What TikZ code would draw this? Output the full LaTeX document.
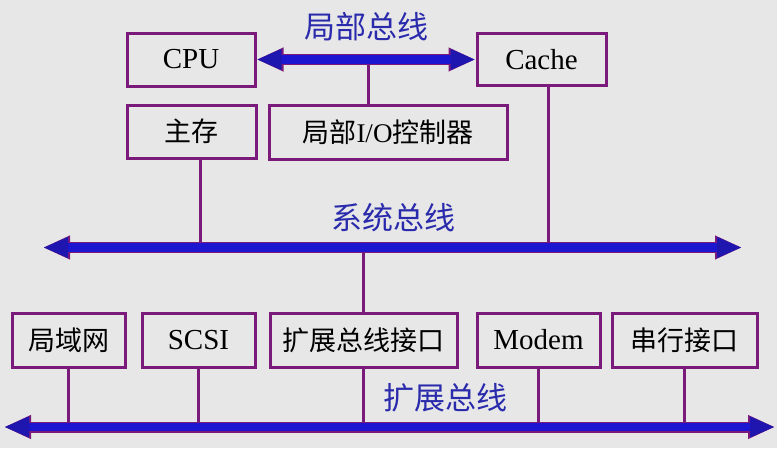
\documentclass[tikz,border=0pt]{standalone}
\usepackage{fontspec}
\setmainfont{Liberation Serif}
\newfontfamily\cjk{Noto Sans CJK SC}
\usetikzlibrary{arrows.meta}

\definecolor{bg}{RGB}{231,231,231}
\definecolor{purp}{RGB}{122,26,122}
\definecolor{busblue}{RGB}{28,22,208}
\definecolor{headblue}{RGB}{30,22,175}
\definecolor{lblue}{RGB}{42,42,172}

\tikzset{
  box/.style={draw=purp, line width=3pt, inner sep=0pt, minimum height=54pt,
    text=black, font=\fontsize{29}{32}\selectfont},
  conn/.style={draw=purp, line width=3pt},
  busline/.style={
    preaction={draw=purp, line width=11pt,
      arrows={Triangle[length=27pt,width=22pt]-Triangle[length=27pt,width=22pt]}},
    draw=busblue, line width=8.5pt,
    arrows={Triangle[length=25pt,width=19pt,color=headblue]-Triangle[length=25pt,width=19pt,color=headblue]}},
  buslabel/.style={text=lblue, font=\cjk\fontsize{31}{34}\selectfont, inner sep=0pt}
}

\begin{document}
\begin{tikzpicture}[x=1pt,y=-1pt]
\fill[bg] (0,0) rectangle (777,448);
\useasboundingbox (0,0) rectangle (777,448);

% CPU level
\node[box, minimum width=128pt, minimum height=53pt] (cpu) at (191,59.5) {CPU};
\node[box, minimum width=129pt, minimum height=52pt] (cache) at (541.5,59.5) {Cache};
\node[box, minimum width=129pt, minimum height=53pt] (mem) at (191.5,131.5) {\cjk\fontsize{27}{30}\selectfont 主存};
\node[box, minimum width=238pt] (lio) at (388,132) {\cjk\fontsize{27}{30}\selectfont 局部\rmfamily I/O\cjk 控制器};

% expansion devices
\node[box, minimum width=113pt] (lan) at (68.5,340) {\cjk\fontsize{27}{30}\selectfont 局域网};
\node[box, minimum width=113pt] (scsi) at (198.5,340) {SCSI};
\node[box, minimum width=187pt] (ext) at (363.5,340) {\cjk\fontsize{27}{30}\selectfont 扩展总线接口};
\node[box, minimum width=123pt] (modem) at (538.5,340) {Modem};
\node[box, minimum width=145pt] (serial) at (684.5,340) {\cjk\fontsize{27}{30}\selectfont 串行接口};

% bus end points
\coordinate (sysL) at (43,247.5);
\coordinate (sysR) at (742,247.5);
\coordinate (extL) at (4,427);
\coordinate (extR) at (775,427);
\coordinate (loc) at (368,59.5);

% taps onto the buses
\draw[conn] (loc) -- (loc |- lio.north);
\draw[conn] ([xshift=9pt]mem.south) -- ([xshift=9pt]mem.south |- sysL);
\draw[conn] ([xshift=6.5pt]cache.south) -- ([xshift=6.5pt]cache.south |- sysL);
\draw[conn] (ext.north) -- (ext.north |- sysL);
\foreach \n in {lan,scsi,ext,modem,serial}
  \draw[conn] (\n.south) -- (\n.south |- extL);

% buses
\draw[busline] (cpu.east) -- (cache.west);
\draw[busline] (sysL) -- (sysR);
\draw[busline] (extL) -- (extR);

% bus labels
\node[buslabel] (lbl1) at (366,27) {局部总线};
\node[buslabel] (lbl2) at (393,218) {系统总线};
\node[buslabel] (lbl3) at (445,398) {扩展总线};
\end{tikzpicture}
\end{document}
